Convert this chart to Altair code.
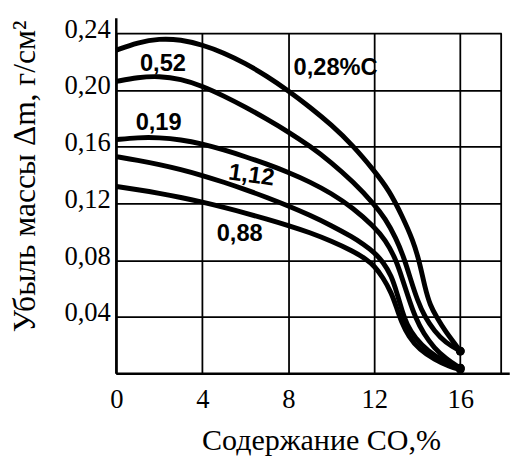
import altair as alt
import pandas as pd

# ---- data ----
x_028 = [0, 1, 2, 3, 4, 5, 6, 7, 8, 9, 10, 11, 12, 12.7, 13.3, 13.8, 14.1, 14.35, 14.6, 14.9, 15.3, 15.7, 16]
y_028 = [0.228, 0.2335, 0.2362, 0.2355, 0.2318, 0.2262, 0.2188, 0.2098, 0.1995, 0.188, 0.1755, 0.161, 0.143,
         0.129, 0.111, 0.094, 0.079, 0.061, 0.048, 0.040, 0.030, 0.022, 0.016]

x_052 = [0, 1, 2, 3, 4, 5, 6, 7, 8, 9, 10, 11, 12, 12.5, 13, 13.4, 13.7, 14.0, 14.35, 14.8, 15.3, 16]
y_052 = [0.206, 0.209, 0.2098, 0.2078, 0.2028, 0.1958, 0.188, 0.1795, 0.1705, 0.1605, 0.149, 0.1355, 0.1195,
         0.1095, 0.096, 0.081, 0.066, 0.052, 0.040, 0.030, 0.022, 0.016]

x_019 = [0, 1, 2, 3, 4, 5, 6, 7, 8, 9, 10, 11, 12, 12.5, 13, 13.3, 13.6, 13.9, 14.3, 14.8, 15.3, 16]
y_019 = [0.165, 0.1665, 0.1665, 0.165, 0.162, 0.1578, 0.153, 0.1478, 0.142, 0.1353, 0.1272, 0.117, 0.1035,
         0.0945, 0.081, 0.067, 0.053, 0.040, 0.028, 0.018, 0.011, 0.004]

x_112 = [0, 1, 2, 3, 4, 5, 6, 7, 8, 9, 10, 11, 11.5, 12, 12.4, 12.8, 13.05, 13.3, 13.5, 13.9, 14.5, 15.2, 16]
y_112 = [0.153, 0.1505, 0.1475, 0.144, 0.1398, 0.135, 0.1298, 0.1243, 0.1183, 0.1118, 0.1045, 0.0962, 0.0912,
         0.0855, 0.079, 0.069, 0.057, 0.044, 0.035, 0.025, 0.016, 0.009, 0.004]

x_088 = [0, 1, 2, 3, 4, 5, 6, 7, 8, 9, 10, 11, 11.65, 12, 12.4, 12.8, 13.05, 13.25, 13.6, 14.1, 14.8, 15.5, 16]
y_088 = [0.132, 0.1297, 0.1272, 0.1243, 0.121, 0.1173, 0.1133, 0.109, 0.1045, 0.0995, 0.0935, 0.0865, 0.0805,
         0.076, 0.068, 0.057, 0.046, 0.037, 0.026, 0.017, 0.010, 0.005, 0.003]

series_names = ["0,28", "0,52", "0,19", "1,12", "0,88"]
series_x = [x_028, x_052, x_019, x_112, x_088]
series_y = [y_028, y_052, y_019, y_112, y_088]

label_text = ["0,28%C", "0,52", "0,19", "1,12", "0,88"]
label_x = [10.2, 2.17, 1.97, 6.29, 5.74]
label_y = [0.2153, 0.218, 0.1764, 0.1396, 0.0986]
label_angle = [0, 0, 0, 8, 0]

x_ticks = [0, 4, 8, 12, 16]
y_ticks = [0.04, 0.08, 0.12, 0.16, 0.20, 0.24]

x_max = 17.9
y_max = 0.24

rows = []
for name, xs, ys in zip(series_names, series_x, series_y):
    for xv, yv in zip(xs, ys):
        rows.append({"series": name, "x": xv, "y": yv})
df = pd.DataFrame(rows)

ends = pd.DataFrame({"x": [xs[-1] for xs in series_x], "y": [ys[-1] for ys in series_y]})
labels = pd.DataFrame({"t": label_text, "x": label_x, "y": label_y, "a": label_angle})

xscale = alt.Scale(domain=[0, x_max], nice=False, zero=False)
yscale = alt.Scale(domain=[0, y_max], nice=False, zero=False)

serif = "Liberation Serif"

xaxis = alt.Axis(values=x_ticks, grid=True, gridColor="black", gridWidth=1.8, gridOpacity=1,
                 domain=False, ticks=False, labelFont=serif, labelFontSize=27, labelColor="black",
                 labelBaseline="alphabetic", labelPadding=34, labelFlush=False,
                 title="Содержание CO,%", titleFont=serif, titleFontSize=30.5, titleFontWeight="normal",
                 titleColor="black", titleX=208, titleY=77, titleBaseline="alphabetic", titleAlign="center")
yaxis = alt.Axis(values=y_ticks, grid=True, gridColor="black", gridWidth=1.8, gridOpacity=1,
                 domain=False, ticks=False, labelFont=serif, labelFontSize=27, labelColor="black",
                 labelBaseline="middle", labelPadding=6, labelOffset=-4, labelFlush=False,
                 labelExpr="replace(format(datum.value, '.2f'), '.', ',')",
                 title="Убыль массы Δm, г/см²", titleFont=serif, titleFontSize=32, titleFontWeight="normal",
                 titleColor="black", titleX=-93, titleY=145, titleBaseline="middle", titleAlign="center",
                 titleAngle=270)

lines = alt.Chart(df).mark_line(color="black", strokeWidth=5, interpolate="basis").encode(
    x=alt.X("x:Q", scale=xscale, axis=xaxis),
    y=alt.Y("y:Q", scale=yscale, axis=yaxis),
    detail="series:N",
)

dots = alt.Chart(ends).mark_circle(color="black", opacity=1, size=80).encode(
    x=alt.X("x:Q", scale=xscale), y=alt.Y("y:Q", scale=yscale)
)

texts = alt.Chart(labels).mark_text(font="Liberation Sans", fontSize=24, fontWeight="bold",
                                    color="black", align="center", baseline="middle").encode(
    x=alt.X("x:Q", scale=xscale), y=alt.Y("y:Q", scale=yscale), text="t:N", angle=alt.Angle("a:Q", scale=None)
)

frame = pd.DataFrame({"x": [0, 0, x_max], "x2": [0, 18.3, x_max], "y": [0, 0, 0], "y2": [0.2505, 0, y_max],
                      "w": [2.5, 2.5, 1.8]})
borders = alt.Chart(frame).mark_rule(color="black").encode(
    x=alt.X("x:Q", scale=xscale), x2="x2:Q",
    y=alt.Y("y:Q", scale=yscale), y2="y2:Q",
    strokeWidth=alt.StrokeWidth("w:Q", scale=None),
)

chart = alt.layer(borders, lines, dots, texts).properties(
    width=391, height=346,
    padding={"left": 110, "top": 22, "right": 10, "bottom": 83},
    autosize=alt.AutoSizeParams(type="none"),
).configure_view(stroke=None).configure(background="white")

chart.save("out.html", embed_options={"renderer": "svg", "actions": False})
